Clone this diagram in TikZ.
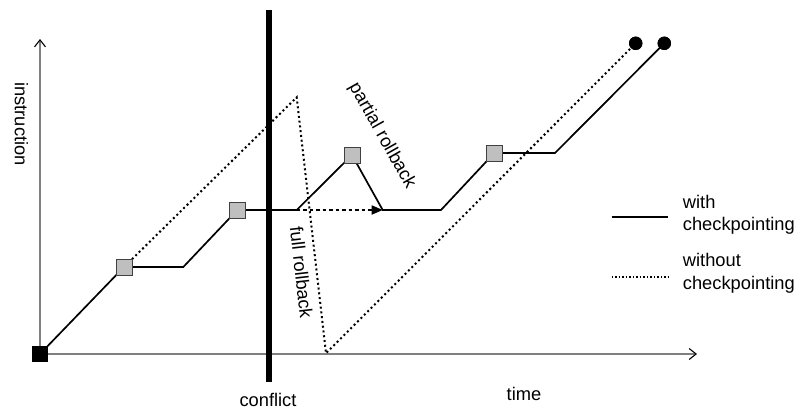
\documentclass[tikz,border=0pt]{standalone}
\usepackage{fontspec}
\setmainfont{Liberation Sans}
\usetikzlibrary{arrows.meta}
\begin{document}
\begin{tikzpicture}[x=1pt,y=-1pt,
  axis/.style={draw=black!50,line width=1.5pt},
  axtip/.style={-{Straight Barb[length=7pt,width=11pt,line width=1.1pt,color=black]}},
  solidrun/.style={draw=black,line width=1.7pt,line join=miter},
  dottedrun/.style={draw=black,line width=2pt,dash pattern=on 2pt off 2.8pt},
  chk/.style={draw=black!75,fill=black!25,line width=0.9pt,minimum size=16pt,inner sep=0pt,outer sep=0pt},
  startbox/.style={draw=black,fill=black,minimum size=15pt,inner sep=0pt,outer sep=0pt},
  enddot/.style={circle,fill=black,minimum size=13.4pt,inner sep=0pt,outer sep=0pt},
  lbl/.style={font=\fontsize{18.3}{22}\selectfont,inner sep=0pt},
]
\useasboundingbox (0,0) rectangle (801,410);

% coordinates
\coordinate (O) at (40,354);
\coordinate (ytop) at (40,39);
\coordinate (xend) at (697,354);
\coordinate (s1) at (183.3,267);
\coordinate (s2) at (296.7,210);
\coordinate (s3) at (382.7,210);
\coordinate (s4) at (441,210);
\coordinate (s5) at (555,153);
\coordinate (d1) at (296.7,97.3);
\coordinate (d2) at (326,353.3);
\coordinate (ctop) at (269,10);
\coordinate (cbot) at (269,381.7);
\coordinate (la) at (611.7,216.7);
\coordinate (lb) at (668.3,216.7);
\coordinate (lc) at (611.7,277);
\coordinate (ld) at (668.3,277);

% axes
\draw[axis,axtip] (O) -- (ytop);
\draw[axis,axtip] (O) -- (xend);

% node positions
\node[chk] (c1) at (124,267) {};
\node[chk] (c2) at (237.3,210) {};
\node[chk] (c3) at (352,155) {};
\node[chk] (c4) at (494.3,153) {};
\node[enddot] (e1) at (635.7,43.3) {};
\node[enddot] (e2) at (664.3,43.3) {};

% without checkpointing
\draw[dottedrun] (c1) -- (d1) -- (d2) -- (e1.center);

% with checkpointing
\draw[solidrun] (O) -- (c1.center) -- (s1) -- (c2.center) -- (s2) -- (c3.center) -- (s3) -- (s4) -- (c4.center) -- (s5) -- (e2.center);

% partial rollback jump
\draw[black,line width=1.1pt,dash pattern=on 3.5pt off 3pt,-{Triangle[length=11pt,width=9.5pt,line width=0pt]}] (s2) -- (s3);

% redraw boxes on top
\node[chk] at (c1) {};
\node[chk] at (c2) {};
\node[chk] at (c3) {};
\node[chk] at (c4) {};
\node[startbox] (o) at (O) {};
\node[enddot] at (e1) {};
\node[enddot] at (e2) {};

% conflict line
\draw[black,line width=6.3pt] (ctop) -- (cbot);

% labels
\node[lbl,rotate=-90] (instr) at (21.5,124) {instruction};
\node[lbl,anchor=base] (conf) at (268,406.5) {conflict};
\node[lbl,anchor=base] (time) at (524,400.7) {time};
\node[lbl,rotate=-83.5] (full) at (301.5,272.5) {full rollback};
\node[lbl,rotate=-60.6] (part) at (382,136) {partial rollback};

% legend
\draw[solidrun] (la) -- (lb);
\draw[draw=black,line width=1.5pt,dash pattern=on 1.5pt off 2pt] (lc) -- (ld);
\node[lbl,anchor=base west] (w1) at (682.7,208) {with};
\node[lbl,anchor=base west] (w2) at (682.7,230) {checkpointing};
\node[lbl,anchor=base west] (n1) at (682.7,266.5) {without};
\node[lbl,anchor=base west] (n2) at (682.7,289) {checkpointing};
\end{tikzpicture}
\end{document}
